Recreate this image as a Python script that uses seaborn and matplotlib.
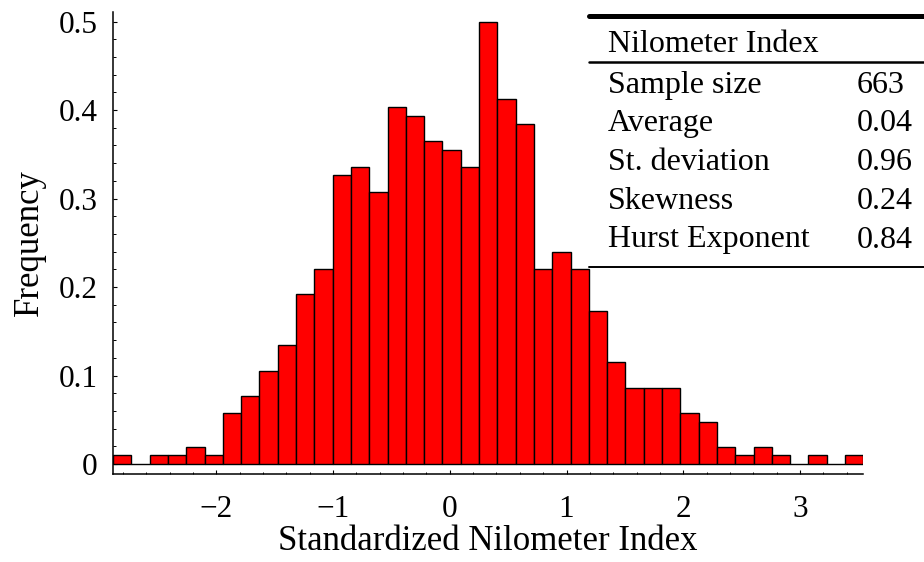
import numpy as np
import pandas as pd
import matplotlib
matplotlib.use("Agg")
import matplotlib.pyplot as plt
from matplotlib.lines import Line2D
from matplotlib.ticker import MultipleLocator, FixedLocator
import seaborn as sns

# Histogram of the standardized Nilometer index (41 equal-width bins)
bin_lo = -2.886
bin_hi = 3.543
bin_counts = [1, 0, 1, 1, 2, 1, 6, 8, 11, 14, 20, 23, 34, 35, 32, 42, 41,
              38, 37, 35, 52, 43, 40, 23, 25, 23, 18, 12, 9, 9, 9, 6, 5,
              2, 1, 2, 1, 0, 1, 0, 1]

# Summary table
table_title = "Nilometer Index"
stat_names = ["Sample size", "Average", "St. deviation", "Skewness", "Hurst Exponent"]
stat_values = ["663", "0.04", "0.96", "0.24", "0.84"]

x_major = [-2, -1, 0, 1, 2, 3]
y_major = [0, 0.1, 0.2, 0.3, 0.4, 0.5]
y_labels = ["0", "0.1", "0.2", "0.3", "0.4", "0.5"]

sns.set_theme(style="white")
plt.rcParams["font.family"] = ["Liberation Serif", "DejaVu Serif"]
plt.rcParams["axes.unicode_minus"] = True

W, H = 924, 562
fig = plt.figure(figsize=(W / 100, H / 100), dpi=100)
fig.patch.set_facecolor("white")


def fx(px):
    return px / W


def fy(py):
    return 1 - py / H


ax = fig.add_axes([fx(113), fy(474.3), fx(863.3) - fx(113), fy(11.7) - fy(474.3)])
ax.set_facecolor("white")

n_bins = len(bin_counts)
edges = np.linspace(bin_lo, bin_hi, n_bins + 1)
hist_df = pd.DataFrame({
    "index": (edges[:-1] + edges[1:]) / 2,
    "count": np.asarray(bin_counts, dtype=float),
})

sns.histplot(data=hist_df, x="index", weights="count", bins=n_bins,
             binrange=(bin_lo, bin_hi), stat="density",
             color="#ff0000", edgecolor="black", linewidth=1.0, alpha=1.0,
             ax=ax)

ax.set_xlim(bin_lo, bin_hi)
ax.set_ylim(-0.01164, 0.5111)

for side in ("top", "right"):
    ax.spines[side].set_visible(False)
for side in ("left", "bottom"):
    ax.spines[side].set_color("black")
    ax.spines[side].set_linewidth(1.1)

ax.xaxis.set_major_locator(FixedLocator(x_major))
ax.xaxis.set_minor_locator(MultipleLocator(0.2))
ax.yaxis.set_major_locator(FixedLocator(y_major))
ax.yaxis.set_minor_locator(MultipleLocator(0.02))
ax.set_yticklabels(y_labels)

ax.tick_params(axis="both", which="major", direction="in", length=3.2,
               width=0.8, color="black", labelsize=22.5, labelcolor="black")
ax.tick_params(axis="both", which="minor", direction="in", length=1.8,
               width=0.7, color="black")
ax.tick_params(axis="x", which="major", pad=15)
ax.tick_params(axis="y", which="major", pad=11)
ax.tick_params(bottom=True, left=True, which="both")

ax.set_xlabel("Standardized Nilometer Index", fontsize=25, color="black",
              labelpad=0.5)
ax.set_ylabel("Frequency", fontsize=25, color="black", labelpad=9)

# Summary table in the upper right corner
x_left, x_right = 589, 924
fig.add_artist(Line2D([fx(x_left), fx(x_right)], [fy(15.7), fy(15.7)],
                      transform=fig.transFigure, color="black", lw=3.6))
fig.add_artist(Line2D([fx(x_left), fx(x_right)], [fy(61.5), fy(61.5)],
                      transform=fig.transFigure, color="black", lw=1.8))
fig.add_artist(Line2D([fx(x_left), fx(x_right)], [fy(266.5), fy(266.5)],
                      transform=fig.transFigure, color="black", lw=1.4))

text_kw = dict(fontsize=23, color="black", va="baseline")
fig.text(fx(608), fy(51.7), table_title, ha="left", **text_kw)
row_base = [92.7, 131.2, 170.0, 209.0, 247.5]
for name, val, yb in zip(stat_names, stat_values, row_base):
    fig.text(fx(608), fy(yb), name, ha="left", **text_kw)
    fig.text(fx(857), fy(yb), val, ha="left", **text_kw)

fig.savefig("out.png", dpi=100, facecolor="white")
